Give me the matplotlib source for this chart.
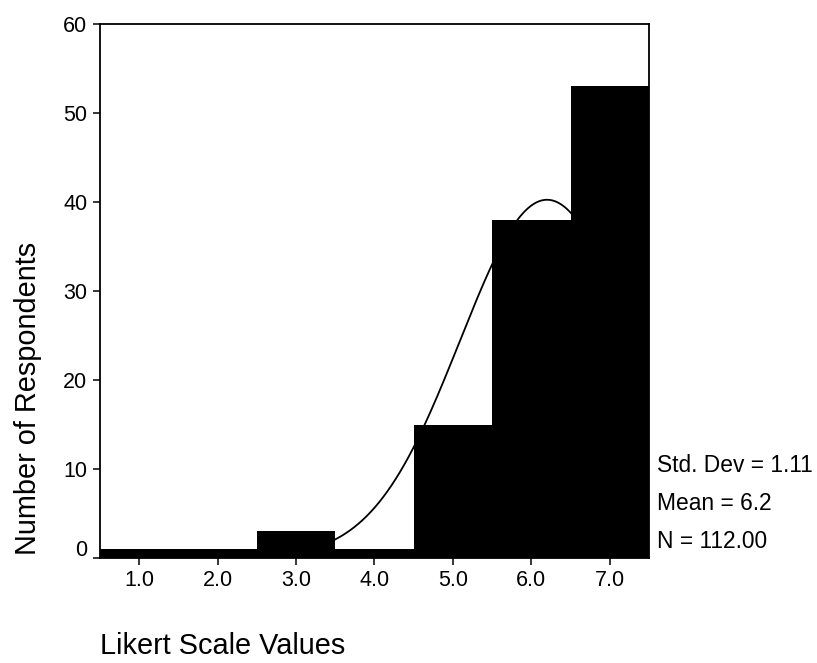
import numpy as np
import matplotlib
matplotlib.use("Agg")
import matplotlib.pyplot as plt
from matplotlib.transforms import ScaledTranslation

plt.rcParams["font.family"] = ["Liberation Sans", "DejaVu Sans"]

# ─── Data ────────────────────────────────────────────────────────────────────
likert_values = [1, 2, 3, 4, 5, 6, 7]
respondents = [1, 1, 3, 1, 15, 38, 53]
x_tick_labels = ["1.0", "2.0", "3.0", "4.0", "5.0", "6.0", "7.0"]
y_ticks = [0, 10, 20, 30, 40, 50, 60]

STD_DEV = 1.11
MEAN = 6.2
N = 112

# ─── Figure ──────────────────────────────────────────────────────────────────
W, H = 817, 663
fig = plt.figure(figsize=(W / 100, H / 100), dpi=100)
ax = fig.add_axes([100 / W, 1 - 558 / H, (649 - 100) / W, (558 - 24) / H])

# fitted normal curve, behind the bars
xs = np.linspace(0.5, 7.5, 400)
curve = N * 1.0 / (STD_DEV * np.sqrt(2 * np.pi)) * np.exp(-0.5 * ((xs - MEAN) / STD_DEV) ** 2)
ax.plot(xs, curve, color="black", lw=1.3, zorder=1)

ax.bar(likert_values, respondents, width=1.0, color="black", edgecolor="black",
       linewidth=0, zorder=2)

ax.set_xlim(0.5, 7.5)
ax.set_ylim(0, 60)
ax.set_xticks(likert_values)
ax.set_xticklabels(x_tick_labels, fontsize=15.5)
ax.set_yticks(y_ticks)
ax.set_yticklabels([str(v) for v in y_ticks], fontsize=15.5)
ax.tick_params(direction="out", length=5, width=1.1, pad=4)
for s in ax.spines.values():
    s.set_linewidth(1.3)

# SPSS draws the 0 label a little above the corner
zero_lbl = ax.get_yticklabels()[0]
zero_lbl.set_transform(zero_lbl.get_transform() + ScaledTranslation(0, 10 / 100, fig.dpi_scale_trans))

# stats box
fig.text(657 / W, 1 - 465 / H, f"Std. Dev = {STD_DEV:.2f}", fontsize=16.4, va="center", ha="left")
fig.text(657 / W, 1 - 503 / H, f"Mean = {MEAN:.1f}", fontsize=16.4, va="center", ha="left")
fig.text(657 / W, 1 - 542 / H, f"N = {N:.2f}", fontsize=16.4, va="center", ha="left")

fig.text(100 / W, 1 - 646 / H, "Likert Scale Values", fontsize=20.8, va="center", ha="left")
fig.text(28 / W, 1 - 398 / H, "Number of Respondents", fontsize=20.8, va="center",
         ha="center", rotation=90)

plt.savefig("out.png", dpi=100)
